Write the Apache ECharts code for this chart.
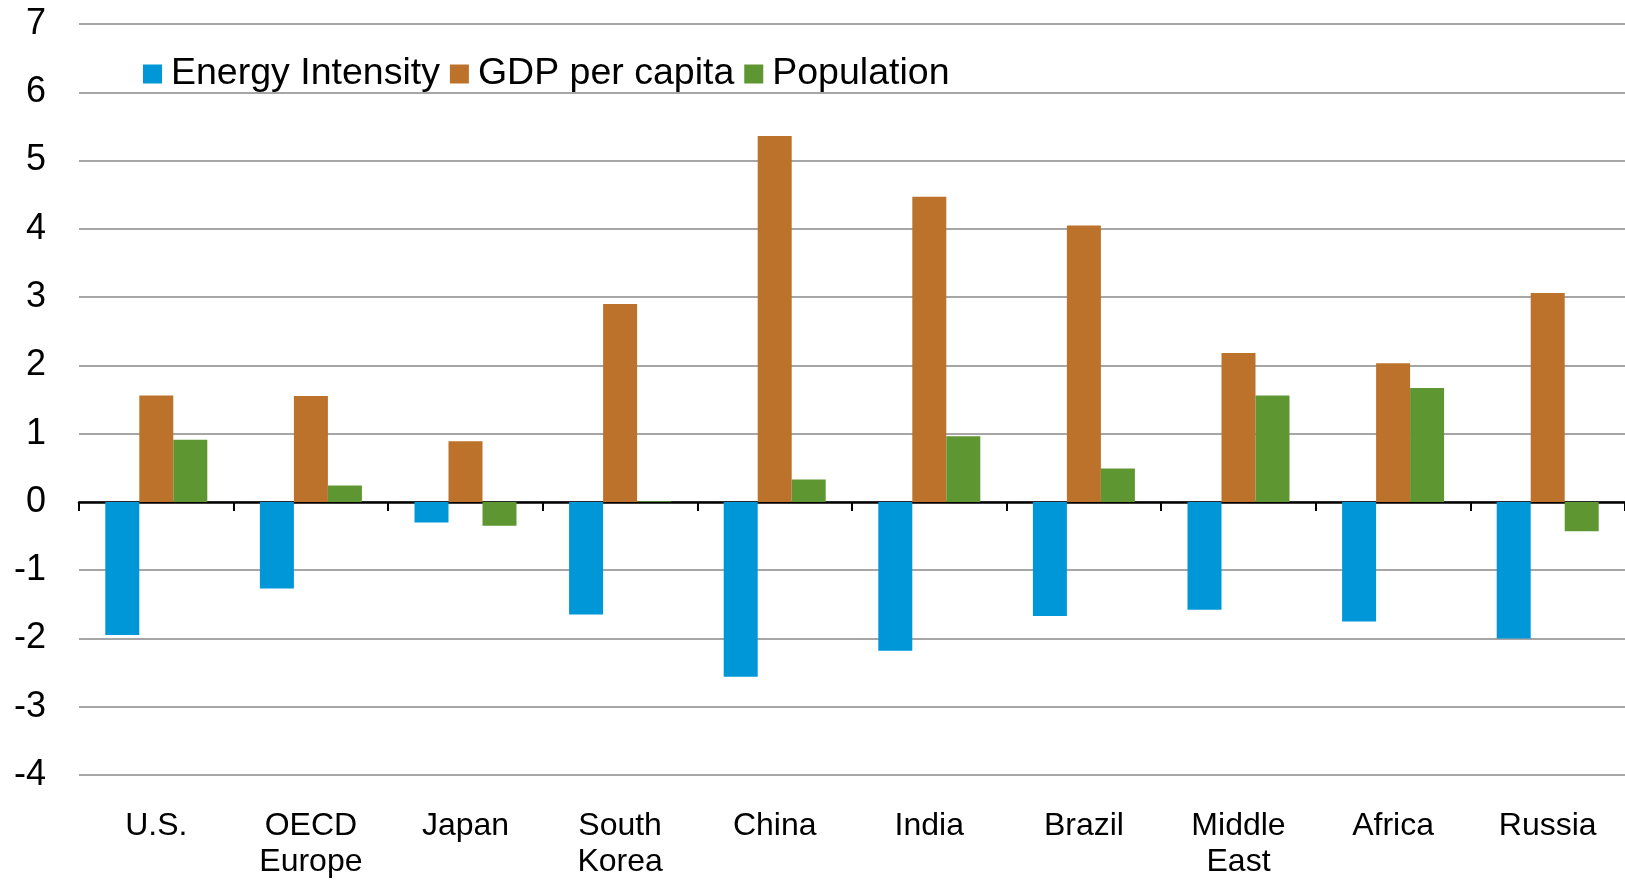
<!DOCTYPE html>
<html>
<head>
<meta charset="utf-8">
<script src="https://cdn.jsdelivr.net/npm/echarts@6/dist/echarts.min.js"></script>
<style>
html,body{margin:0;padding:0;background:#fff;}
#chart{width:1625px;height:880px;}
</style>
</head>
<body>
<div id="chart"></div>
<script>
const categories = ['U.S.', 'OECD\nEurope', 'Japan', 'South\nKorea', 'China', 'India', 'Brazil', 'Middle\nEast', 'Africa', 'Russia'];
const energyIntensity = [-1.95, -1.27, -0.30, -1.65, -2.56, -2.18, -1.67, -1.58, -1.75, -2.00];
const gdpPerCapita = [1.56, 1.55, 0.89, 2.90, 5.36, 4.47, 4.05, 2.18, 2.03, 3.06];
const population = [0.91, 0.24, -0.35, 0.01, 0.33, 0.96, 0.49, 1.56, 1.67, -0.43];
const seriesNames = ['Energy Intensity', 'GDP per capita', 'Population'];
const colors = ['#0097D9', '#BC722B', '#5E9732'];

const chart = echarts.init(document.getElementById('chart'));
const font = '"Liberation Sans", Arial, sans-serif';
chart.setOption({
  animation: false,
  textStyle: { fontFamily: font },
  color: colors,
  legend: {
    left: 138,
    top: 50,
    itemWidth: 19,
    itemHeight: 19,
    itemGap: 10,
    icon: 'rect',
    textStyle: { fontSize: 37.5, color: '#000', fontFamily: font, padding: [0, 0, 0, 4] },
    data: seriesNames
  },
  grid: { left: 79, right: 0, top: 24, bottom: 101 },
  xAxis: {
    type: 'category',
    data: categories,
    axisLine: { onZero: true, lineStyle: { color: '#000', width: 2.5 } },
    axisTick: { show: true, length: 9, lineStyle: { color: '#000', width: 2 } },
    axisLabel: { interval: 0, fontSize: 32, lineHeight: 36, color: '#000', margin: 33, fontFamily: font },
    splitLine: { show: false }
  },
  yAxis: {
    type: 'value',
    min: -4, max: 7, interval: 1,
    axisLine: { show: false },
    axisTick: { show: false },
    axisLabel: { fontSize: 36, color: '#000', margin: 33, fontFamily: font },
    splitLine: { show: true, lineStyle: { color: '#A6A6A6', width: 2 } }
  },
  series: [
    { name: seriesNames[0], type: 'bar', data: energyIntensity, barWidth: 34, barGap: '0%' },
    { name: seriesNames[1], type: 'bar', data: gdpPerCapita, barWidth: 34, barGap: '0%' },
    { name: seriesNames[2], type: 'bar', data: population, barWidth: 34, barGap: '0%' }
  ]
});
</script>
</body>
</html>
